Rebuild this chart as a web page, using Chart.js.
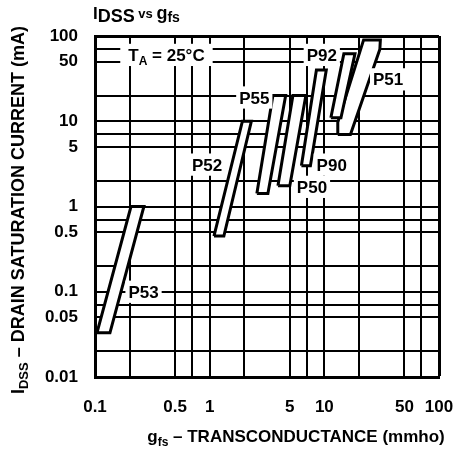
<!DOCTYPE html>
<html>
<head>
<meta charset="utf-8">
<script src="https://cdn.jsdelivr.net/npm/chart.js@4.4.1/dist/chart.umd.min.js"></script>
<style>
  html, body { margin: 0; padding: 0; background: #fff; }
  canvas { display: block; }
</style>
</head>
<body>
<canvas id="idssChart" width="466" height="450"></canvas>
<script>
// grid at 1, 2, 5, 7 of every decade, only some of them labelled
const gfsGrid = [0.1, 0.2, 0.5, 0.7, 1, 2, 5, 7, 10, 20, 50, 70, 100];
const gfsLabels = [0.1, 0.5, 1, 5, 10, 50, 100];
const idssGrid = [0.01, 0.02, 0.05, 0.07, 0.1, 0.2, 0.5, 0.7, 1, 2, 5, 7, 10, 20, 50, 70, 100];
const idssLabels = [0.01, 0.05, 0.1, 0.5, 1, 5, 10, 50, 100];

// device bands, corners (gfs in mmho, IDSS in mA)
const bandNames = ['P53', 'P52', 'P55', 'P50', 'P90', 'P92', 'P51'];
const p53Gfs = [0.104, 0.135, 0.267, 0.206];
const p53Idss = [0.033, 0.033, 1.0, 1.0];
const p52Gfs = [1.09, 1.33, 2.31, 1.93];
const p52Idss = [0.45, 0.45, 10, 10];
const p55Gfs = [2.58, 3.22, 4.6, 3.56];
const p55Idss = [1.42, 1.42, 20, 20];
const p50Gfs = [3.94, 5.0, 6.9, 5.32];
const p50Idss = [1.75, 1.75, 20, 20];
const p90Gfs = [6.31, 7.56, 10.4, 8.53];
const p90Idss = [3.0, 3.0, 40, 40];
const p92Gfs = [11.4, 13.96, 18.5, 14.8];
const p92Idss = [11, 11, 62, 62];
const p51Gfs = [13.1, 16.9, 30.5, 30.8, 22.0, 13.1];
const p51Idss = [7, 7, 70, 90, 90, 9.7];

// where the part numbers sit (data units)
const labelGfs = [0.265, 0.95, 2.45, 7.8, 11.6, 9.5, 36];
const labelIdss = [0.1, 3.1, 19, 1.7, 3.1, 60, 31];

const FONT = "'Liberation Sans', Arial, sans-serif";

const bands = [
    [p53Gfs, p53Idss], [p52Gfs, p52Idss], [p55Gfs, p55Idss], [p50Gfs, p50Idss],
    [p90Gfs, p90Idss], [p92Gfs, p92Idss], [p51Gfs, p51Idss]
];

function richWidth(ctx, parts) {
    let w = 0;
    parts.forEach(p => {
        ctx.font = 'bold ' + p.size + 'px ' + FONT;
        w += ctx.measureText(p.t).width;
    });
    return w;
}

// draws text runs left to right from x, baseline y; dy shifts a run (subscripts)
function richText(ctx, parts, x, y) {
    ctx.textBaseline = 'alphabetic';
    ctx.textAlign = 'left';
    ctx.fillStyle = '#000';
    parts.forEach(p => {
        ctx.font = 'bold ' + p.size + 'px ' + FONT;
        ctx.fillText(p.t, x, y + (p.dy || 0));
        x += ctx.measureText(p.t).width;
    });
}

function boxedText(ctx, parts, cx, cy, pad) {
    const w = richWidth(ctx, parts);
    const cap = 0.72 * parts[0].size;
    ctx.fillStyle = '#fff';
    ctx.fillRect(cx - w / 2 - pad, cy - cap / 2 - 5, w + pad * 2, cap + 10);
    richText(ctx, parts, cx - w / 2, cy + cap / 2);
}

const whiteBg = {
    id: 'whiteBg',
    beforeDraw(chart) {
        const ctx = chart.ctx;
        ctx.save();
        ctx.fillStyle = '#fff';
        ctx.fillRect(0, 0, chart.width, chart.height);
        ctx.restore();
    }
};

const annotate = {
    id: 'annotate',
    afterDatasetsDraw(chart) {
        const { ctx, scales: { x, y } } = chart;
        ctx.save();
        bandNames.forEach((name, k) => {
            boxedText(ctx, [{ t: name, size: 17 }],
                x.getPixelForValue(labelGfs[k]), y.getPixelForValue(labelIdss[k]), 3);
        });
        boxedText(ctx, [
            { t: 'T', size: 17 }, { t: 'A', size: 12, dy: 4 }, { t: ' = 25°C', size: 17 }
        ], x.getPixelForValue(0.42), y.getPixelForValue(60), 8);
        ctx.restore();
    },
    afterDraw(chart) {
        const ctx = chart.ctx;
        ctx.save();
        // chart title
        richText(ctx, [
            { t: 'I', size: 17, dy: -3 }, { t: 'DSS', size: 18 },
            { t: ' vs ', size: 13, dy: -4 }, { t: 'g', size: 18, dy: -3 }, { t: 'fs', size: 14 }
        ], 93, 22);
        // x axis title
        const xParts = [
            { t: 'g', size: 17 }, { t: 'fs', size: 12, dy: 4 },
            { t: ' \u2013 TRANSCONDUCTANCE (mmho)', size: 17 }
        ];
        richText(ctx, xParts, 296 - richWidth(ctx, xParts) / 2, 442);
        // y axis title, rotated
        const yParts = [
            { t: 'I', size: 18 }, { t: 'DSS', size: 13, dy: 4 },
            { t: ' \u2013 DRAIN SATURATION CURRENT (mA)', size: 18 }
        ];
        ctx.translate(24, 210);
        ctx.rotate(-Math.PI / 2);
        richText(ctx, yParts, -richWidth(ctx, yParts) / 2, 0);
        ctx.restore();
    }
};

const tickFont = { family: FONT, size: 17, weight: 'bold' };

new Chart(document.getElementById('idssChart'), {
    type: 'line',
    data: {
        datasets: bands.map(([g, i], k) => ({
            label: bandNames[k],
            data: g.map((v, j) => ({ x: v, y: i[j] })).concat([{ x: g[0], y: i[0] }]),
            borderColor: '#000',
            borderWidth: 3,
            backgroundColor: '#fff',
            borderJoinStyle: 'miter',
            fill: 'shape',
            tension: 0,
            pointRadius: 0
        }))
    },
    options: {
        responsive: false,
        animation: false,
        layout: { padding: { top: 36, right: 27, left: 0, bottom: 0 } },
        plugins: {
            legend: { display: false },
            tooltip: { enabled: false }
        },
        scales: {
            x: {
                type: 'logarithmic',
                min: 0.1,
                max: 100,
                afterBuildTicks: s => { s.ticks = gfsGrid.map(v => ({ value: v })); },
                afterFit: s => { s.height = 73; s.paddingLeft = 0; s.paddingRight = 0; },
                ticks: {
                    autoSkip: false,
                    maxRotation: 0,
                    padding: 20,
                    color: '#000',
                    font: tickFont,
                    callback: v => gfsLabels.includes(v) ? String(v) : ''
                },
                grid: {
                    color: '#000',
                    lineWidth: c => (c.tick && c.tick.value === 100) ? 3 : 2,
                    drawTicks: false
                },
                border: { display: true, color: '#000', width: 3 }
            },
            y: {
                type: 'logarithmic',
                min: 0.01,
                max: 100,
                afterBuildTicks: s => { s.ticks = idssGrid.map(v => ({ value: v })); },
                afterFit: s => { s.width = 95; s.paddingTop = 0; s.paddingBottom = 0; },
                ticks: {
                    autoSkip: false,
                    padding: 17,
                    color: '#000',
                    font: tickFont,
                    callback: v => idssLabels.includes(v) ? String(v) : ''
                },
                grid: {
                    color: '#000',
                    lineWidth: c => (c.tick && c.tick.value === 100) ? 3 : 2,
                    drawTicks: false
                },
                border: { display: true, color: '#000', width: 3 }
            }
        }
    },
    plugins: [whiteBg, annotate]
});
</script>
</body>
</html>
